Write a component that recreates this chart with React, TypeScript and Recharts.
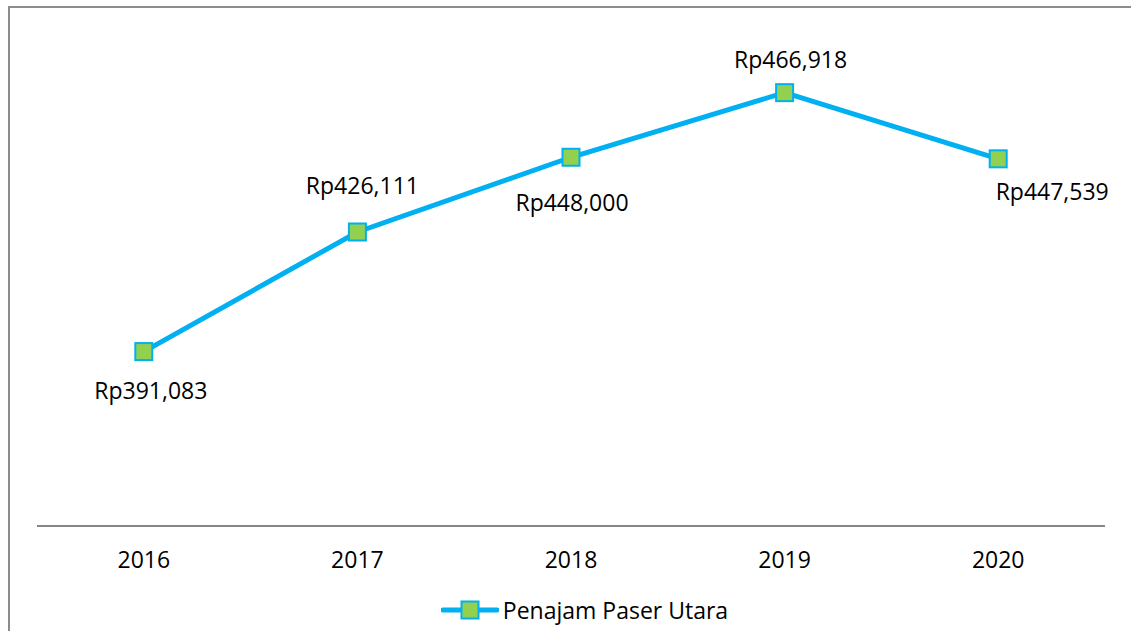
import React from "react";
import { LineChart, Line, XAxis, YAxis, Legend, LabelList } from "recharts";

const years = ["2016", "2017", "2018", "2019", "2020"];
const values = [391083, 426111, 448000, 466918, 447539];
const seriesName = "Penajam Paser Utara";
const yDomain = [340000, 480000];

const data = years.map((y, i) => ({ year: y, value: values[i] }));

const LINE = "#00B0F0";
const FILL = "#92D050";
const FONT = "'Open Sans', sans-serif";
const FS = 23;

// label placement relative to each point (style only)
const labelOffsets = [
  { dx: 7, dy: 39 },
  { dx: 5, dy: -46 },
  { dx: 1, dy: 46 },
  { dx: 6, dy: -33 },
  { dx: 54, dy: 33 },
];

const fmt = (v: number) => "Rp" + v.toLocaleString("en-US");

const SquareDot = (props: any) => {
  const { cx, cy } = props;
  if (cx == null || cy == null) return null;
  return (
    <rect x={cx - 8.5} y={cy - 8.5} width={17} height={17} fill={FILL} stroke={LINE} strokeWidth={2} />
  );
};

const ValueLabel = (props: any) => {
  const { x, y, value, index } = props;
  const o = labelOffsets[index] || { dx: 0, dy: -30 };
  return (
    <text
      x={x + o.dx}
      y={y + o.dy + FS * 0.357}
      textAnchor="middle"
      fontFamily={FONT}
      fontSize={FS}
      fill="#000"
    >
      {fmt(value)}
    </text>
  );
};

const LegendContent = () => (
  <div
    style={{
      height: 40,
      display: "flex",
      alignItems: "center",
      justifyContent: "center",
      fontFamily: FONT,
      fontSize: FS,
      color: "#000",
      paddingLeft: 38,
      boxSizing: "border-box",
    }}
  >
    <svg width={58} height={24} style={{ marginRight: 4 }}>
      <line x1={2} y1={12} x2={56} y2={12} stroke={LINE} strokeWidth={5} strokeLinecap="round" />
      <rect x={20.5} y={3.5} width={17} height={17} fill={FILL} stroke={LINE} strokeWidth={2} />
    </svg>
    <span>{seriesName}</span>
  </div>
);

export default function App() {
  return (
    <div style={{ position: "relative", width: 1131, height: 631, overflow: "hidden", background: "#fff" }}>
      <style>{"body{margin:0}"}</style>
      <div
        style={{
          position: "absolute",
          left: 8,
          top: 6,
          width: 1200,
          height: 700,
          border: "2px solid #8c8c8c",
          boxSizing: "border-box",
        }}
      />
      <div style={{ position: "absolute", left: 0, top: 0 }}>
        <LineChart width={1131} height={631} data={data} margin={{ top: 48, right: 26, left: 37, bottom: 20 }}>
          <XAxis
            dataKey="year"
            axisLine={{ stroke: "#868686", strokeWidth: 2 }}
            tickLine={false}
            tickSize={0}
            tickMargin={26}
            height={45}
            padding={{ left: 106.8, right: 106.8 }}
            tick={{ fontFamily: FONT, fontSize: FS, fill: "#000" }}
            interval={0}
          />
          <YAxis hide domain={yDomain} type="number" allowDataOverflow />
          <Legend
            verticalAlign="bottom"
            content={<LegendContent />}
            wrapperStyle={{ top: 590, left: 0, width: 1131, height: 40 }}
          />
          <Line
            type="linear"
            dataKey="value"
            name={seriesName}
            stroke={LINE}
            strokeWidth={5}
            dot={<SquareDot />}
            activeDot={false}
            isAnimationActive={false}
          >
            <LabelList dataKey="value" content={<ValueLabel />} />
          </Line>
        </LineChart>
      </div>
    </div>
  );
}
